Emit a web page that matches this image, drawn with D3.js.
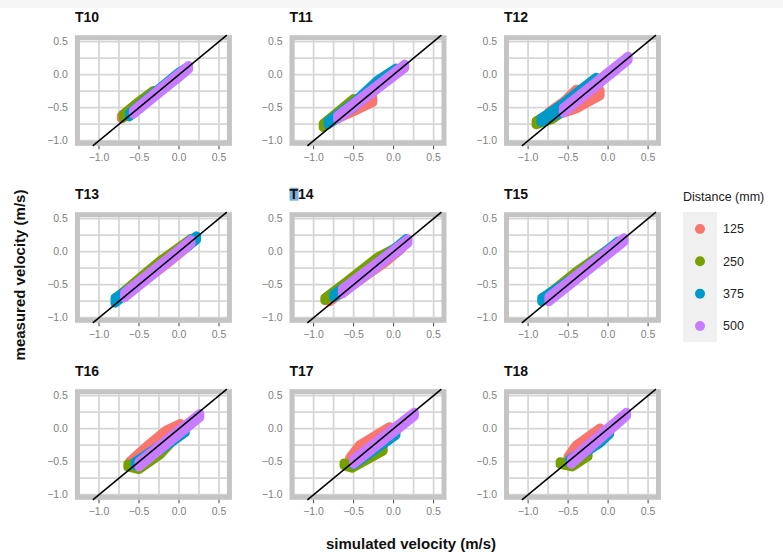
<!DOCTYPE html>
<html>
<head>
<meta charset="utf-8">
<script src="https://cdn.jsdelivr.net/npm/d3@7"></script>
<style>
  body { margin: 0; background: #fff; }
  svg { display: block; font-family: "Liberation Sans", Arial, sans-serif; }
</style>
</head>
<body>
<svg id="chart" width="783" height="560"></svg>
<script>
// ─── data ─────────────────────────────────────────────────────────
// each series: rows of [simulated, measured low, measured high]
const distances = ["125", "250", "375", "500"];
const colours   = ["#F8766D", "#76A000", "#009ACA", "#C77CFF"];
const panelNames = ["T10", "T11", "T12", "T13", "T14", "T15", "T16", "T17", "T18"];
const ticks     = [-1.0, -0.5, 0.0, 0.5];
const xGrid     = [-1.25, -1.0, -0.75, -0.5, -0.25, 0, 0.25, 0.5];
const yGrid     = [-1.0, -0.75, -0.5, -0.25, 0, 0.25, 0.5];

const T10 = [
  [[-0.72,-0.67,-0.62],[-0.45,-0.47,-0.40]],
  [[-0.70,-0.66,-0.60],[-0.50,-0.48,-0.40],[-0.32,-0.30,-0.24]],
  [[-0.62,-0.64,-0.58],[-0.30,-0.32,-0.26],[0.00,-0.04,0.04],[0.08,0.05,0.10]],
  [[-0.57,-0.60,-0.54],[0.12,0.08,0.14]]
];
const T11 = [
  [[-0.76,-0.70,-0.64],[-0.50,-0.56,-0.46],[-0.26,-0.42,-0.34]],
  [[-0.88,-0.80,-0.74],[-0.70,-0.66,-0.56],[-0.50,-0.46,-0.36]],
  [[-0.82,-0.76,-0.70],[-0.50,-0.50,-0.42],[-0.20,-0.18,-0.08],[0.03,0.04,0.10]],
  [[-0.70,-0.68,-0.62],[0.14,0.10,0.16]]
];
const T12 = [
  [[-0.74,-0.62,-0.56],[-0.55,-0.58,-0.40],[-0.40,-0.52,-0.22],[-0.25,-0.42,-0.22],[-0.10,-0.32,-0.24]],
  [[-0.90,-0.76,-0.70],[-0.70,-0.68,-0.56],[-0.48,-0.50,-0.38]],
  [[-0.84,-0.72,-0.66],[-0.55,-0.56,-0.42],[-0.30,-0.30,-0.18],[-0.15,-0.12,-0.04]],
  [[-0.56,-0.58,-0.50],[0.25,0.22,0.28]]
];
const T13 = [
  [[-0.70,-0.70,-0.66],[-0.10,-0.14,-0.10],[0.12,0.08,0.12]],
  [[-0.75,-0.72,-0.66],[-0.40,-0.38,-0.30],[-0.22,-0.18,-0.12],[0.15,0.14,0.20]],
  [[-0.80,-0.78,-0.70],[-0.65,-0.64,-0.58],[-0.40,-0.40,-0.40],[0.00,0.00,0.00],[0.12,0.08,0.16],[0.22,0.18,0.24]],
  [[-0.68,-0.70,-0.62],[0.15,0.12,0.18]]
];
const T14 = [
  [[-0.80,-0.76,-0.72],[-0.10,-0.16,-0.12],[0.10,0.04,0.06]],
  [[-0.86,-0.74,-0.70],[-0.60,-0.52,-0.46],[-0.20,-0.12,-0.08],[0.05,0.05,0.08]],
  [[-0.75,-0.70,-0.64],[-0.40,-0.40,-0.36],[0.00,-0.02,0.04],[0.16,0.16,0.20]],
  [[-0.64,-0.64,-0.56],[0.18,0.13,0.19]]
];
const T15 = [
  [[-0.70,-0.68,-0.66],[0.10,0.06,0.08]],
  [[-0.75,-0.70,-0.64],[-0.40,-0.36,-0.30],[0.00,0.00,0.04]],
  [[-0.83,-0.76,-0.70],[-0.40,-0.42,-0.36],[0.00,-0.02,0.04],[0.12,0.10,0.16]],
  [[-0.74,-0.76,-0.68],[0.20,0.15,0.21]]
];
const T16 = [
  [[-0.62,-0.55,-0.50],[-0.40,-0.34,-0.26],[-0.16,-0.10,-0.02],[0.02,0.03,0.08]],
  [[-0.64,-0.58,-0.54],[-0.50,-0.62,-0.52],[-0.24,-0.40,-0.32],[-0.10,-0.22,-0.16]],
  [[-0.55,-0.56,-0.50],[-0.20,-0.30,-0.22],[0.08,-0.06,0.02]],
  [[-0.50,-0.58,-0.50],[0.26,0.17,0.23]]
];
const T17 = [
  [[-0.55,-0.50,-0.44],[-0.43,-0.32,-0.25],[-0.05,-0.02,0.03]],
  [[-0.62,-0.56,-0.52],[-0.52,-0.60,-0.56],[-0.13,-0.34,-0.28]],
  [[-0.50,-0.55,-0.48],[-0.20,-0.30,-0.22],[0.03,-0.10,-0.04]],
  [[-0.50,-0.54,-0.46],[0.26,0.19,0.25]]
];
const T18 = [
  [[-0.50,-0.48,-0.42],[-0.40,-0.32,-0.25],[-0.10,-0.04,0.01]],
  [[-0.60,-0.54,-0.50],[-0.45,-0.58,-0.54],[-0.25,-0.42,-0.36]],
  [[-0.48,-0.52,-0.46],[-0.10,-0.22,-0.16],[0.02,-0.08,-0.04]],
  [[-0.46,-0.54,-0.46],[0.23,0.19,0.25]]
];
const panelData = [T10, T11, T12, T13, T14, T15, T16, T17, T18];

// ─── layout ───────────────────────────────────────────────────────
const colLeft = [77.4, 292, 506.5];   // inner left edge of each column
const rowTop  = [37.7, 214.7, 391.7]; // inner top edge of each row
const pw = 152, ph = 105.6;
const frame = 5;

const svg = d3.select("#chart");
svg.append("rect").attr("width", 783).attr("height", 8).attr("fill", "#f6f6f6");

const fmt = d3.format(".1f");

panelData.forEach((series, i) => {
  const col = i % 3, row = Math.floor(i / 3);
  const x = d3.scaleLinear().domain([-1.27, 0.63]).range([colLeft[col], colLeft[col] + pw]);
  const y = d3.scaleLinear().domain([-1.04, 0.56]).range([rowTop[row] + ph, rowTop[row]]);
  const g = svg.append("g");

  // panel + grid
  g.append("rect")
    .attr("x", x.range()[0]).attr("y", y.range()[1])
    .attr("width", pw).attr("height", ph)
    .attr("fill", "#fff");

  g.selectAll("line.vg").data(xGrid).join("line")
    .attr("x1", d => x(d)).attr("x2", d => x(d))
    .attr("y1", y.range()[1]).attr("y2", y.range()[0])
    .attr("stroke", "#d6d6d6").attr("stroke-width", 1.8);
  g.selectAll("line.hg").data(yGrid).join("line")
    .attr("y1", d => y(d)).attr("y2", d => y(d))
    .attr("x1", x.range()[0]).attr("x2", x.range()[1])
    .attr("stroke", "#d6d6d6").attr("stroke-width", 1.8);

  g.append("rect")
    .attr("x", x.range()[0]).attr("y", y.range()[1])
    .attr("width", pw).attr("height", ph)
    .attr("fill", "none").attr("stroke", "#c4c4c4").attr("stroke-width", frame);

  // clouds of points, drawn as bands with point-sized edges
  const area = d3.area()
    .x(d => x(d[0]))
    .y0(d => y(d[1]))
    .y1(d => y(d[2]));

  series.forEach((s, k) => {
    g.append("path")
      .attr("d", area(s))
      .attr("fill", colours[k])
      .attr("stroke", colours[k])
      .attr("stroke-width", 9)
      .attr("stroke-linejoin", "round")
      .attr("stroke-linecap", "round");
  });

  // 1:1 line running to the frame edges
  const lo = y.invert(y.range()[0] + frame / 2);
  const hi = y.invert(y.range()[1] - frame / 2);
  g.append("line")
    .attr("x1", x(lo)).attr("y1", y(lo))
    .attr("x2", x(hi)).attr("y2", y(hi))
    .attr("stroke", "#000").attr("stroke-width", 1.5);

  // axes
  const bottom = y.range()[0] + frame / 2;
  g.selectAll("line.xt").data(ticks).join("line")
    .attr("x1", d => x(d)).attr("x2", d => x(d))
    .attr("y1", bottom).attr("y2", bottom + 3.5)
    .attr("stroke", "#444").attr("stroke-width", 1);
  g.selectAll("text.xl").data(ticks).join("text")
    .attr("x", d => x(d)).attr("y", bottom + 15.5)
    .attr("text-anchor", "middle")
    .attr("font-size", 10.5).attr("fill", "#7f7f7f")
    .text(d => fmt(d));
  g.selectAll("text.yl").data(ticks).join("text")
    .attr("x", x.range()[0] - frame / 2 - 7).attr("y", d => y(d))
    .attr("dy", "0.35em")
    .attr("text-anchor", "end")
    .attr("font-size", 10.5).attr("fill", "#7f7f7f")
    .text(d => fmt(d));

  // strip title
  const tx = x.range()[0] - frame / 2, ty = y.range()[1] - 16;
  if (panelNames[i] === "T14") {
    g.append("rect").attr("x", tx).attr("y", ty - 11).attr("width", 9).attr("height", 13)
      .attr("fill", "#7fb0dc");
  }
  g.append("text")
    .attr("x", tx).attr("y", ty)
    .attr("font-size", 14).attr("font-weight", "bold").attr("fill", "#111")
    .text(panelNames[i]);
});

// ─── axis titles ──────────────────────────────────────────────────
svg.append("text")
  .attr("x", 411).attr("y", 549)
  .attr("text-anchor", "middle")
  .attr("font-size", 15).attr("font-weight", "bold").attr("fill", "#111")
  .text("simulated velocity (m/s)");

svg.append("text")
  .attr("transform", "translate(25,275) rotate(-90)")
  .attr("text-anchor", "middle")
  .attr("font-size", 15).attr("font-weight", "bold").attr("fill", "#111")
  .text("measured velocity (m/s)");

// ─── legend ───────────────────────────────────────────────────────
const legend = svg.append("g");
legend.append("text")
  .attr("x", 683).attr("y", 201)
  .attr("font-size", 12.5).attr("fill", "#222")
  .text("Distance (mm)");
legend.append("rect")
  .attr("x", 683).attr("y", 212).attr("width", 34).attr("height", 130)
  .attr("fill", "#f0f0f0");

const ly = d3.scalePoint().domain(distances).range([229, 326]);
legend.selectAll("circle").data(distances).join("circle")
  .attr("cx", 700).attr("cy", d => ly(d)).attr("r", 5)
  .attr("fill", (d, k) => colours[k]);
legend.selectAll("text.lab").data(distances).join("text")
  .attr("x", 723).attr("y", d => ly(d)).attr("dy", "0.35em")
  .attr("font-size", 12.5).attr("fill", "#222")
  .text(d => d);
</script>
</body>
</html>
